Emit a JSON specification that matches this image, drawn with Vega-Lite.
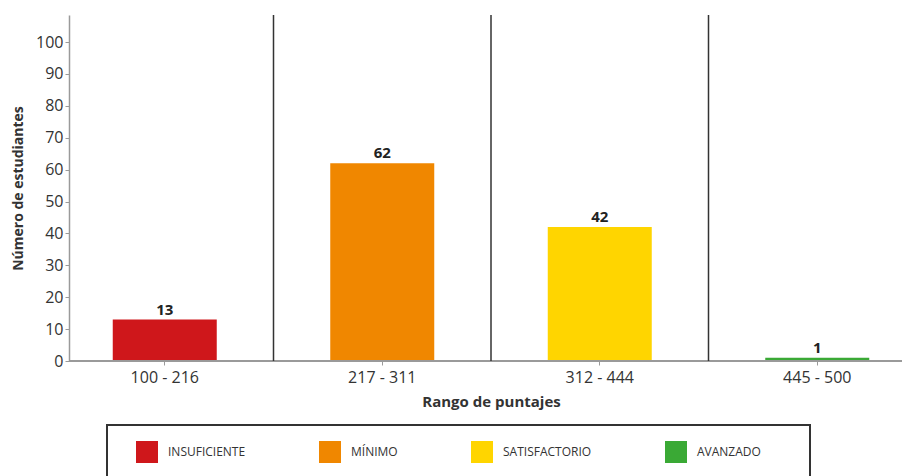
{
  "$schema": "https://vega.github.io/schema/vega-lite/v6.json",
  "width": 833,
  "height": 346,
  "autosize": {"type": "none"},
  "padding": {"left": 69, "top": 15, "right": 0, "bottom": 115},
  "background": "white",
  "config": {"view": {"stroke": null}, "font": "Open Sans", "legend": {"strokeWidth": 2},
    "axisX": {"title": "Rango de puntajes", "domain": false, "labelAngle": 0, "tickColor": "#9a9a9a", "tickSize": 4,
              "labelFontSize": 16, "labelColor": "#333333", "labelPadding": 4,
              "titleFontSize": 15, "titleFontWeight": "bold", "titleColor": "#333333", "titlePadding": 9},
    "axisY": {"grid": false, "domainColor": "#9a9a9a", "domainWidth": 1.5, "tickColor": "#9a9a9a", "tickSize": 4,
              "labelFontSize": 16, "labelColor": "#333333", "labelPadding": 2,
              "titleFontSize": 14, "titleFontWeight": "bold", "titleColor": "#333333", "titlePadding": 10}
  },
  "data": {
    "values": [
      {"rango": "100 - 216", "nivel": "INSUFICIENTE", "estudiantes": 13},
      {"rango": "217 - 311", "nivel": "MÍNIMO", "estudiantes": 62},
      {"rango": "312 - 444", "nivel": "SATISFACTORIO", "estudiantes": 42},
      {"rango": "445 - 500", "nivel": "AVANZADO", "estudiantes": 1}
    ]
  },
  "layer": [
    {
      "mark": {"type": "bar", "width": 104},
      "encoding": {
        "x": {"field": "rango", "type": "nominal",
              "scale": {"domain": ["100 - 216", "217 - 311", "312 - 444", "445 - 500"], "range": [-13, 857], "paddingInner": 0, "paddingOuter": 0},
              "axis": {"title": "Rango de puntajes"}},
        "y": {"field": "estudiantes", "type": "quantitative",
              "scale": {"domain": [0, 108.5], "nice": false},
              "axis": {"title": "Número de estudiantes", "values": [0, 10, 20, 30, 40, 50, 60, 70, 80, 90, 100]}},
        "color": {"field": "nivel", "type": "nominal",
                  "scale": {"domain": ["INSUFICIENTE", "MÍNIMO", "SATISFACTORIO", "AVANZADO"], "range": ["#cf171b", "#f08700", "#ffd500", "#3aa935"]},
                  "legend": {"orient": "none", "legendX": 38, "legendY": 410, "direction": "horizontal", "title": "\u00a0", "titleOrient": "right", "titlePadding": 33,
                             "symbolType": "square", "symbolSize": 484, "symbolStrokeWidth": 0, "symbolOpacity": 1,
                             "labelFontSize": 12, "labelColor": "#333333", "labelOffset": 10, "columnPadding": 60,
                             "padding": 16, "strokeColor": "#333333", "fillColor": "white", "symbolOffset": 13}}
      }
    },
    {
      "mark": {"type": "rule", "color": "#9a9a9a", "strokeWidth": 1.5},
      "encoding": {"y": {"datum": 0, "type": "quantitative",
              "axis": {"title": "Número de estudiantes", "values": [0, 10, 20, 30, 40, 50, 60, 70, 80, 90, 100]}}}
    },
    {
      "transform": [{"filter": "datum.rango !== '445 - 500'"}],
      "mark": {"type": "rule", "color": "#333333", "strokeWidth": 1.5},
      "encoding": {
        "x": {"field": "rango", "type": "nominal", "bandPosition": 1,
              "scale": {"domain": ["100 - 216", "217 - 311", "312 - 444", "445 - 500"], "range": [-13, 857], "paddingInner": 0, "paddingOuter": 0},
              "axis": {"title": "Rango de puntajes"}}
      }
    },
    {
      "mark": {"type": "text", "dy": -10, "fontSize": 15, "fontWeight": "bold", "color": "#222222"},
      "encoding": {
        "x": {"field": "rango", "type": "nominal",
              "scale": {"domain": ["100 - 216", "217 - 311", "312 - 444", "445 - 500"], "range": [-13, 857], "paddingInner": 0, "paddingOuter": 0},
              "axis": {"title": "Rango de puntajes"}},
        "y": {"field": "estudiantes", "type": "quantitative",
              "axis": {"title": "Número de estudiantes", "values": [0, 10, 20, 30, 40, 50, 60, 70, 80, 90, 100]}},
        "text": {"field": "estudiantes", "type": "quantitative"}
      }
    }
  ]
}
